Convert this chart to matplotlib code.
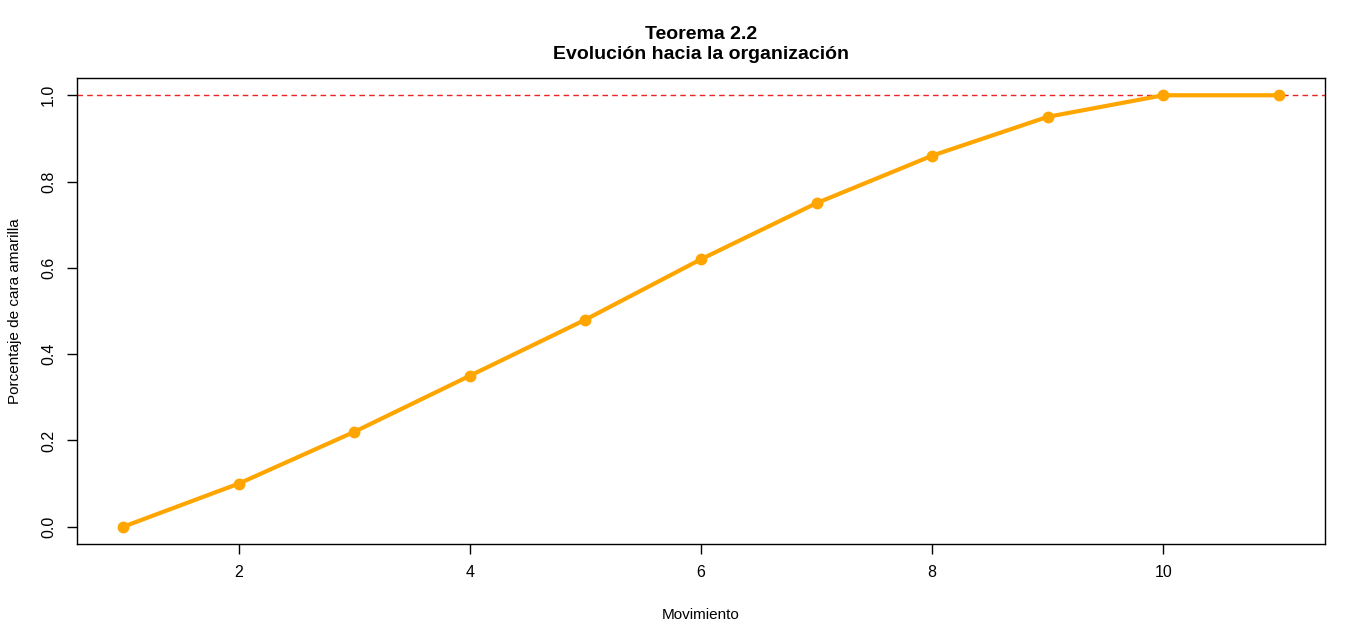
import matplotlib.pyplot as plt

plt.rcParams['font.family'] = ['Liberation Sans', 'DejaVu Sans']

movimiento = [1, 2, 3, 4, 5, 6, 7, 8, 9, 10, 11]
porcentaje = [0.0, 0.10, 0.22, 0.35, 0.48, 0.62, 0.75, 0.86, 0.95, 1.0, 1.0]
x_ticks = [2, 4, 6, 8, 10]
y_ticks = [0.0, 0.2, 0.4, 0.6, 0.8, 1.0]

fig = plt.figure(figsize=(13.66, 6.42), dpi=100)
ax = fig.add_axes([77 / 1366, 98 / 642, 1248 / 1366, 466 / 642])

ax.axhline(1.0, color='#ee2222', linestyle=(0, (4, 3)), linewidth=1)
ax.plot(movimiento, porcentaje, color='orange', linewidth=3,
        marker='o', markersize=7.5)

ax.set_xlim(0.6, 11.4)
ax.set_ylim(-0.04, 1.04)
ax.set_xticks(x_ticks)
ax.set_xticklabels([str(t) for t in x_ticks])
ax.set_yticks(y_ticks)
ax.set_yticklabels([f"{t:.1f}" for t in y_ticks], rotation=90, va='center')
ax.tick_params(direction='out', length=7, width=1, labelsize=11.5, pad=8)
for s in ax.spines.values():
    s.set_linewidth(1)

ax.set_xlabel("Movimiento", fontsize=11, labelpad=20)
ax.set_ylabel("Porcentaje de cara amarilla", fontsize=11, labelpad=14)
ax.set_title("Teorema 2.2\nEvolución hacia la organización",
             fontsize=14, fontweight='bold', pad=14)

fig.savefig("out.png", dpi=100)
